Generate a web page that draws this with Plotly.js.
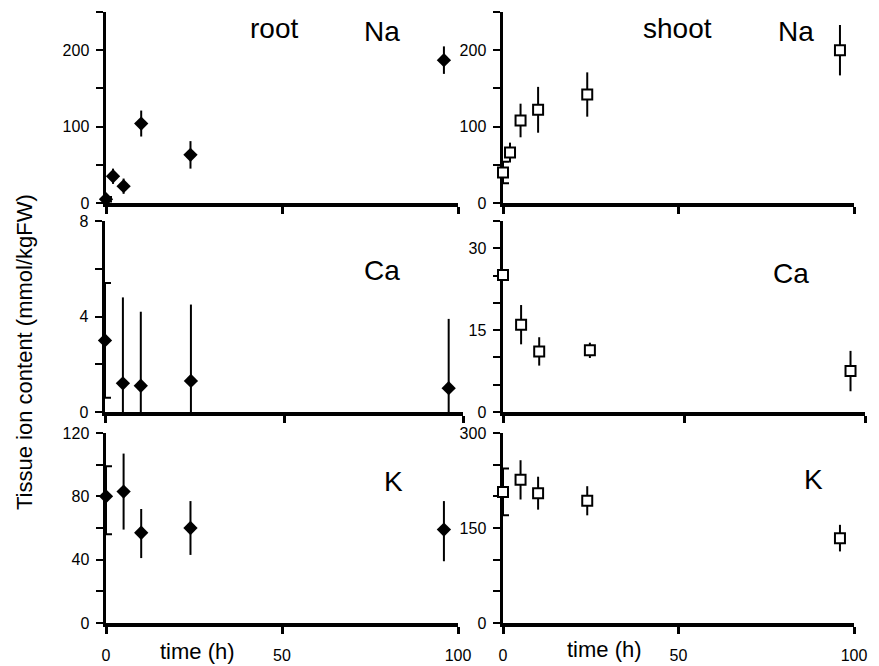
<!DOCTYPE html>
<html>
<head>
<meta charset="utf-8">
<script src="https://cdn.plot.ly/plotly-3.0.1.min.js"></script>
<style>html,body{margin:0;padding:0;background:#fff;}#chart{width:879px;height:666px;}</style>
</head>
<body>
<div id="chart"></div>
<script>
// ---- data ----
const naTime = [0, 2, 5, 10, 24, 96];
const rootNa = [5, 35, 22, 104, 63, 187];
const rootNaErr = [3, 10, 10, 17, 18, 18];
const shootNa = [40, 66, 108, 122, 142, 200];
const shootNaErr = [14, 13, 22, 30, 29, 33];

const caTime = [0, 5, 10, 24, 96];
const rootCa = [3.0, 1.2, 1.1, 1.3, 1.0];
const rootCaErrPlus = [2.4, 3.6, 3.1, 3.2, 2.9];
const rootCaErrMinus = [2.4, 1.2, 1.1, 1.3, 1.0];
const shootCa = [25.1, 16, 11.1, 11.3, 7.5];
const shootCaErr = [0.8, 3.6, 2.6, 1.4, 3.7];

const kTime = [0, 5, 10, 24, 96];
const rootK = [80, 83, 57, 60, 59];
const rootKErrPlus = [19, 24, 15, 17, 18];
const rootKErrMinus = [24, 24, 16, 17, 20];
const shootK = [207, 226, 205, 193, 134];
const shootKErr = [37, 31, 26, 23, 21];

// tick labels
const naTicks = [0, 50, 100, 150, 200, 250];
const naTickText = ['0', '', '100', '', '200', ''];
const rootCaTicks = [0, 2, 4, 6, 8];
const rootCaTickText = ['0', '', '4', '', '8'];
const rootKTicks = [0, 20, 40, 60, 80, 100, 120];
const rootKTickText = ['0', '', '40', '', '80', '', '120'];
const shootCaTicks = [0, 5, 10, 15, 20, 25, 30, 35];
const shootCaTickText = ['0', '', '', '15', '', '', '30', ''];
const shootKTicks = [0, 50, 100, 150, 200, 250, 300];
const shootKTickText = ['0', '', '', '150', '', '', '300'];
const timeTicks = [0, 50, 100];
const timeTickText = ['0', '50', '100'];

// ---- helpers ----
const W = 879, H = 666;
const FONT = 'Liberation Sans, Arial, Helvetica, sans-serif';
const dx = (a, b) => [a / W, b / W];
const dy = (top, bottom) => [1 - bottom / H, 1 - top / H];

const diamond = {symbol: 'diamond', size: 11, color: '#000', line: {width: 0}};
const square = {symbol: 'square', size: 10, color: '#fff', line: {width: 2, color: '#000'}};

function series(x, y, plus, minus, marker, ax) {
  const m = minus || plus;
  const base = {type: 'scatter', mode: 'markers', marker: marker, cliponaxis: false,
    xaxis: 'x' + ax, yaxis: 'y' + ax, showlegend: false, hoverinfo: 'x+y'};
  return [
    Object.assign({}, base, {x: x.slice(0, 1), y: y.slice(0, 1),
      error_y: {type: 'data', symmetric: false, array: plus.slice(0, 1), arrayminus: m.slice(0, 1),
        color: '#000', thickness: 2, width: 6}}),
    Object.assign({}, base, {x: x.slice(1), y: y.slice(1),
      error_y: {type: 'data', symmetric: false, array: plus.slice(1), arrayminus: m.slice(1),
        color: '#000', thickness: 2, width: 0}})
  ];
}

const data = [].concat(
  series(naTime, rootNa, rootNaErr, null, diamond, ''),
  series(caTime, rootCa, rootCaErrPlus, rootCaErrMinus, diamond, '2'),
  series(kTime, rootK, rootKErrPlus, rootKErrMinus, diamond, '3'),
  series(naTime, shootNa, shootNaErr, null, square, '4'),
  series(caTime, shootCa, shootCaErr, null, square, '5'),
  series(kTime, shootK, shootKErr, null, square, '6')
);

function xax(dom, anchor, labels) {
  return {domain: dom, anchor: anchor, range: [0, 100], showgrid: false, zeroline: false,
    showline: true, linecolor: '#000', linewidth: 3.5, ticks: 'outside', ticklen: 7, tickwidth: 3,
    tickcolor: '#000', tickmode: 'array', tickvals: timeTicks, ticktext: timeTickText,
    showticklabels: labels, ticklabelstandoff: 8, layer: 'below traces',
    tickfont: {family: FONT, size: 16, color: '#000'}, fixedrange: true};
}
function yax(dom, anchor, range, vals, text) {
  return {domain: dom, anchor: anchor, range: range, showgrid: false, zeroline: false,
    showline: true, linecolor: '#000', linewidth: 3.5, ticks: 'outside', ticklen: 7, tickwidth: 2,
    tickcolor: '#000', tickmode: 'array', tickvals: vals, ticktext: text, ticklabelstandoff: 3,
    layer: 'below traces', tickfont: {family: FONT, size: 16, color: '#000'}, fixedrange: true};
}

const rootX = dx(106, 458), rootCaX = dx(105, 463);
const shootX = dx(503, 854), shootCaX = dx(503, 865);
const naY = dy(12, 203), caY = dy(221, 412), kY = dy(433, 623);

function lab(text, px, py, size) {
  return {text: text, xref: 'paper', yref: 'paper', x: px / W, y: 1 - py / H,
    xanchor: 'center', yanchor: 'middle', showarrow: false,
    font: {family: FONT, size: size, color: '#000'}};
}

const layout = {
  width: W, height: H, margin: {l: 0, r: 0, t: 0, b: 0},
  paper_bgcolor: '#fff', plot_bgcolor: 'rgba(0,0,0,0)', showlegend: false,
  xaxis: xax(rootX, 'y', false), yaxis: yax(naY, 'x', [0, 250], naTicks, naTickText),
  xaxis2: xax(rootCaX, 'y2', false), yaxis2: yax(caY, 'x2', [0, 8], rootCaTicks, rootCaTickText),
  xaxis3: xax(rootX, 'y3', true), yaxis3: yax(kY, 'x3', [0, 120], rootKTicks, rootKTickText),
  xaxis4: xax(shootX, 'y4', false), yaxis4: yax(naY, 'x4', [0, 250], naTicks, naTickText),
  xaxis5: xax(shootCaX, 'y5', false), yaxis5: yax(caY, 'x5', [0, 35], shootCaTicks, shootCaTickText),
  xaxis6: xax(shootX, 'y6', true), yaxis6: yax(kY, 'x6', [0, 300], shootKTicks, shootKTickText),
  annotations: [
    lab('root', 274, 29, 28), lab('Na', 382, 31, 28),
    lab('shoot', 677, 29, 28), lab('Na', 796, 31, 28),
    lab('Ca', 382, 270, 28), lab('Ca', 791, 274, 28),
    lab('K', 393, 481, 28), lab('K', 813, 479, 28),
    lab('time (h)', 197, 651, 22), lab('time (h)', 604, 649, 22),
    Object.assign(lab('Tissue ion content (mmol/kgFW)', 24, 352, 22), {textangle: -90})
  ]
};

Plotly.newPlot('chart', data, layout, {staticPlot: true, displayModeBar: false});
</script>
</body>
</html>
